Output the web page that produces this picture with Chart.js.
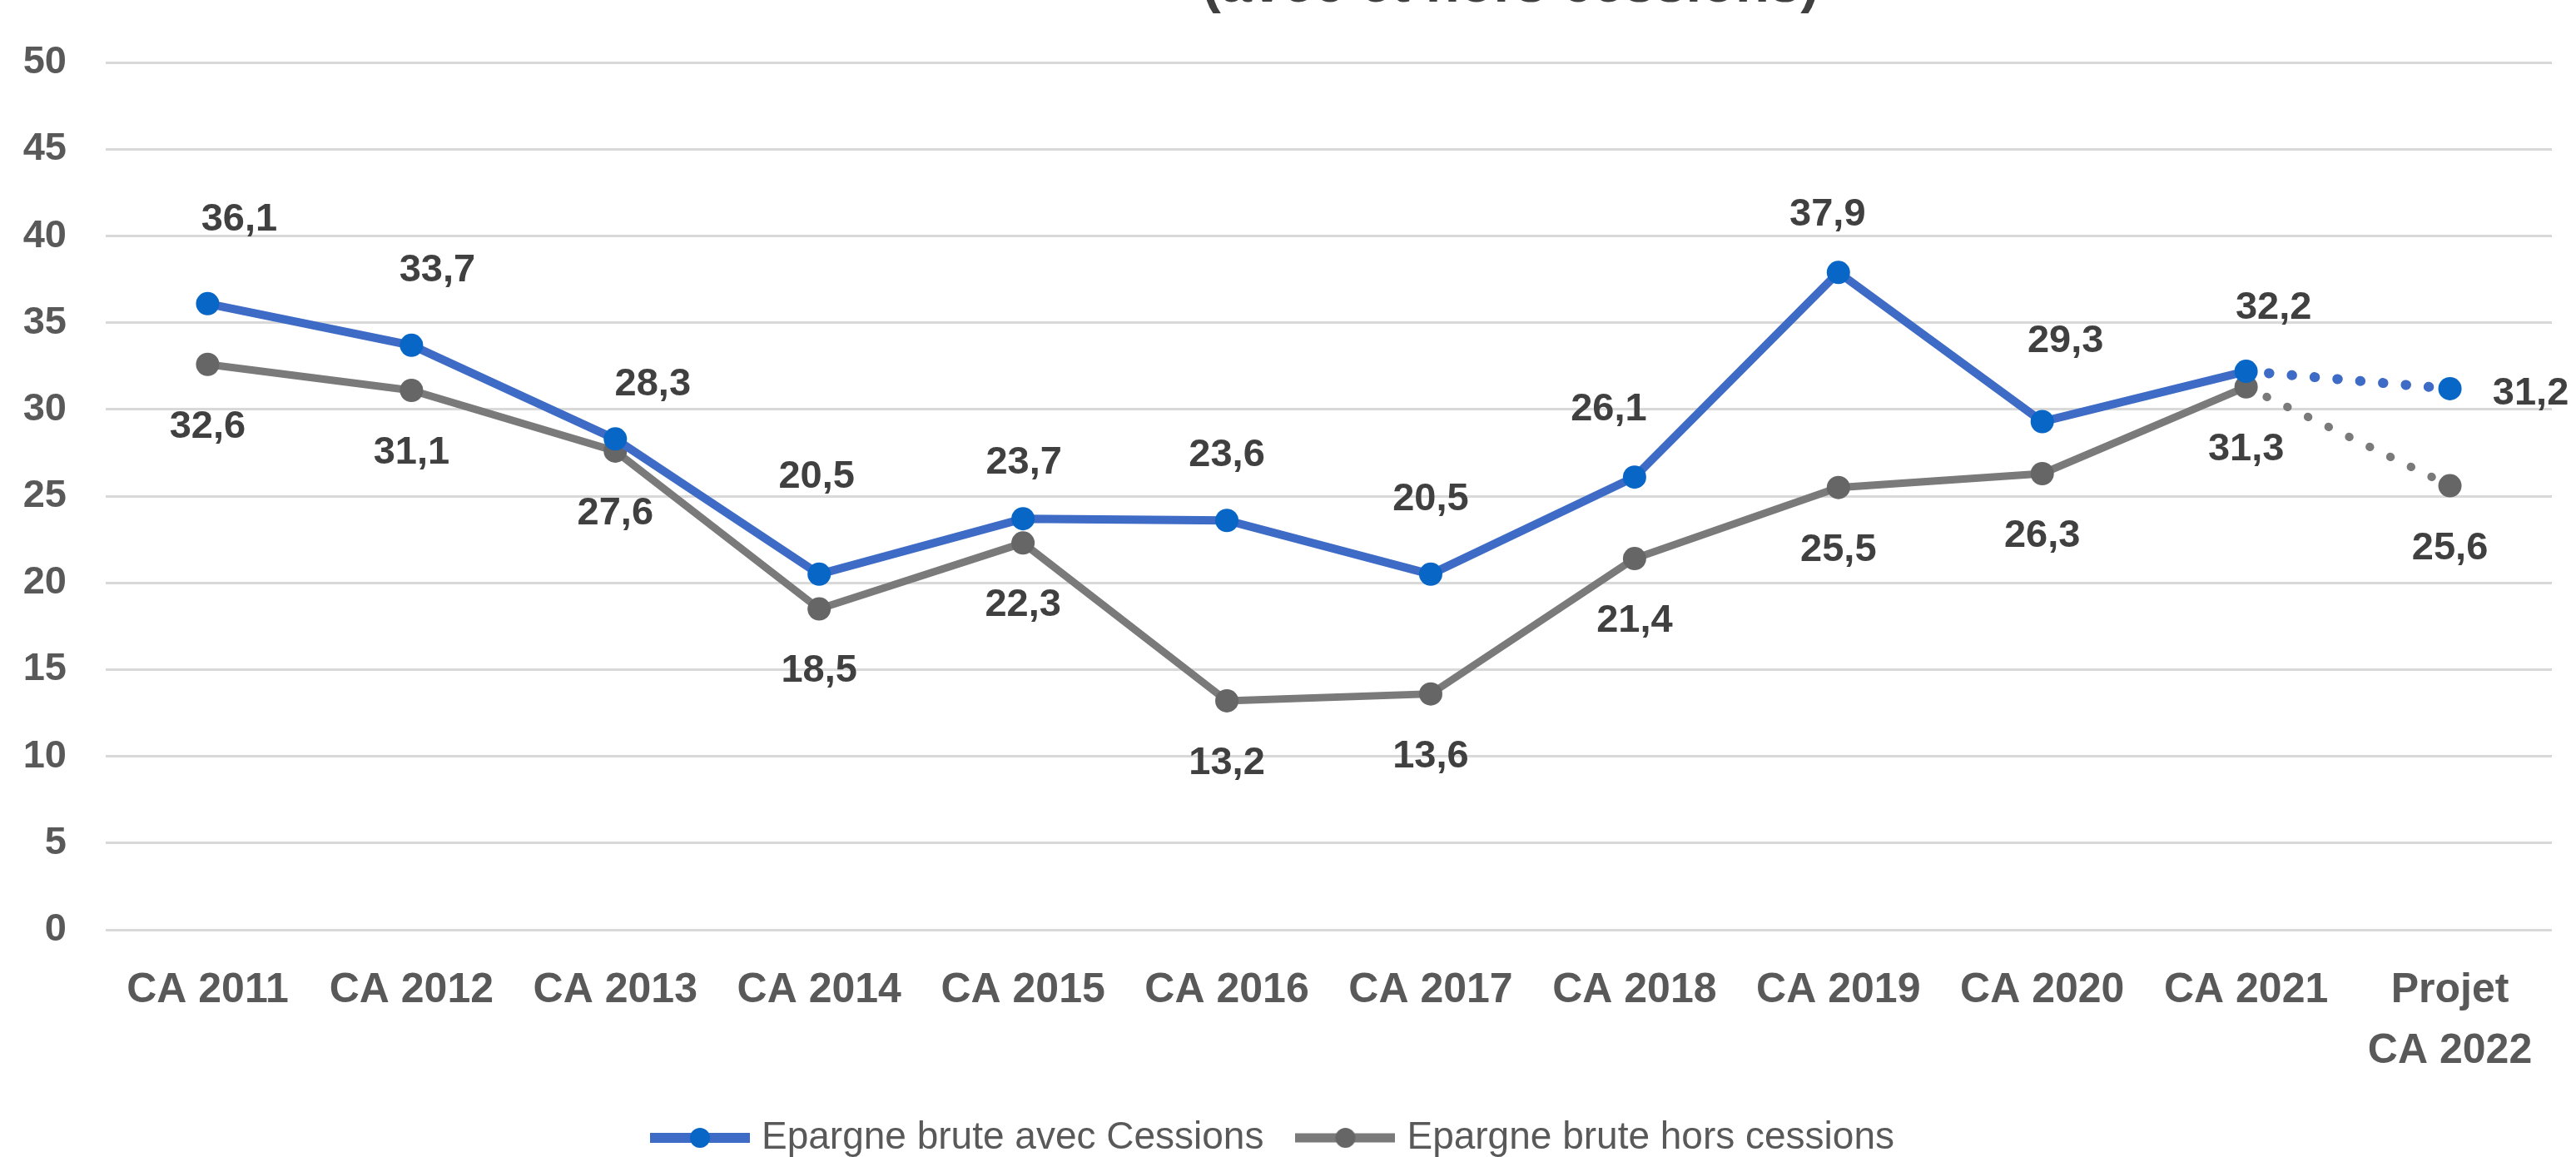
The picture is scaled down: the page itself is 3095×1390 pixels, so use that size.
<!DOCTYPE html>
<html lang="fr">
<head>
<meta charset="utf-8">
<script src="https://cdn.jsdelivr.net/npm/chart.js@4.4.1/dist/chart.umd.min.js"></script>
<style>
  html, body { margin: 0; padding: 0; background: #fff; }
  #wrap { width: 3095px; height: 1390px; }
</style>
</head>
<body>
<div id="wrap"><canvas id="chart" width="3095" height="1390"></canvas></div>
<script>
// Epargne brute (M€), comptes administratifs 2011-2021 + projet 2022
const CATEGORIES = ['CA 2011', 'CA 2012', 'CA 2013', 'CA 2014', 'CA 2015', 'CA 2016',
  'CA 2017', 'CA 2018', 'CA 2019', 'CA 2020', 'CA 2021', ['Projet', 'CA 2022']]
const AVEC_CESSIONS = [36.1, 33.7, 28.3, 20.5, 23.7, 23.6, 20.5, 26.1, 37.9, 29.3, 32.2, 31.2]
const HORS_CESSIONS = [32.6, 31.1, 27.6, 18.5, 22.3, 13.2, 13.6, 21.4, 25.5, 26.3, 31.3, 25.6]
const SERIES_NAMES = ['Epargne brute avec Cessions', 'Epargne brute hors cessions']
const Y_MIN = 0
const Y_MAX = 50
const Y_STEP = 5
const SUBTITLE = '(avec et hors cessions)'

// label placement (pixels from the point), the blue ones were moved by hand in the original
const AVEC_LABEL_SHIFT = [[38, -101], [31, -90], [45, -65], [-3, -117], [1, -67], [0, -78],
  [0, -90], [-31, -81], [-13, -69], [28, -96], [33, -76], [97, 6]]
const HORS_LABEL_SHIFT = [0, 75]

const BLUE_LINE = '#3E6BC6'
const BLUE_POINT = '#0866C6'
const GREY_LINE = '#7A7A7A'
const GREY_POINT = '#666666'
const TEXT_DARK = '#404040'
const TEXT_AXIS = '#595959'
const LAST = CATEGORIES.length - 1

Chart.defaults.font.family = "'Liberation Sans', Arial, sans-serif"

function frNumber (v) {
  return v.toFixed(1).replace('.', ',')
}

function legendMarker (lineColor, pointColor, width) {
  const c = document.createElement('canvas')
  c.width = 120
  c.height = 30
  const ctx = c.getContext('2d')
  ctx.strokeStyle = lineColor
  ctx.lineWidth = width
  ctx.beginPath()
  ctx.moveTo(0, 15)
  ctx.lineTo(120, 15)
  ctx.stroke()
  ctx.fillStyle = pointColor
  ctx.beginPath()
  ctx.arc(60, 15, 12, 0, Math.PI * 2)
  ctx.fill()
  return c
}

const MARKERS = [
  legendMarker(BLUE_LINE, BLUE_POINT, 12),
  legendMarker(GREY_LINE, GREY_POINT, 11)
]

// dotted segment towards the 2022 projection
function dotted (width) {
  return {
    borderDash: (ctx) => ctx.p1DataIndex === LAST ? [0.5, 27] : undefined,
    borderWidth: (ctx) => ctx.p1DataIndex === LAST ? width : undefined
  }
}

const valueLabels = {
  id: 'valueLabels',
  afterDatasetsDraw (chart) {
    const ctx = chart.ctx
    ctx.save()
    ctx.font = "bold 47px 'Liberation Sans', Arial, sans-serif"
    ctx.fillStyle = TEXT_DARK
    ctx.textAlign = 'center'
    ctx.textBaseline = 'middle'
    chart.data.datasets.forEach((ds, di) => {
      const meta = chart.getDatasetMeta(di)
      meta.data.forEach((pt, i) => {
        const shift = di === 0 ? AVEC_LABEL_SHIFT[i] : HORS_LABEL_SHIFT
        ctx.fillText(frNumber(ds.data[i]), pt.x + shift[0], pt.y + shift[1])
      })
    })
    ctx.restore()
  }
}

// only the bottom of the second title line shows in the original crop
const cutTitle = {
  id: 'cutTitle',
  afterDraw (chart) {
    const ctx = chart.ctx
    ctx.save()
    ctx.font = "bold 67px 'Liberation Sans', Arial, sans-serif"
    ctx.fillStyle = TEXT_DARK
    ctx.textAlign = 'center'
    ctx.textBaseline = 'alphabetic'
    ctx.fillText(SUBTITLE, 1815, 2)
    ctx.restore()
  }
}

new Chart(document.getElementById('chart'), {
  type: 'line',
  data: {
    labels: CATEGORIES,
    datasets: [
      {
        label: SERIES_NAMES[0],
        data: AVEC_CESSIONS,
        borderColor: BLUE_LINE,
        backgroundColor: BLUE_POINT,
        borderWidth: 10,
        pointRadius: 14,
        pointBorderWidth: 0,
        pointBackgroundColor: BLUE_POINT,
        borderCapStyle: 'round',
        segment: dotted(12)
      },
      {
        label: SERIES_NAMES[1],
        data: HORS_CESSIONS,
        borderColor: GREY_LINE,
        backgroundColor: GREY_POINT,
        borderWidth: 9,
        pointRadius: 14,
        pointBorderWidth: 0,
        pointBackgroundColor: GREY_POINT,
        borderCapStyle: 'round',
        segment: dotted(10)
      }
    ]
  },
  options: {
    responsive: false,
    animation: false,
    events: [],
    layout: { padding: { top: 37, right: 29, left: 0, bottom: -10 } },
    scales: {
      x: {
        offset: true,
        grid: { display: false, drawTicks: false, tickLength: 0 },
        border: { display: false },
        ticks: {
          color: TEXT_AXIS,
          font: { size: 50, weight: 'bold', lineHeight: 1.46 },
          padding: 37,
          maxRotation: 0,
          autoSkip: false
        },
        afterFit (scale) { scale.height = 180 }
      },
      y: {
        min: Y_MIN,
        max: Y_MAX,
        grid: { color: '#D9D9D9', lineWidth: 3, drawTicks: false, tickLength: 0 },
        border: { display: false },
        ticks: {
          stepSize: Y_STEP,
          color: TEXT_AXIS,
          font: { size: 47, weight: 'bold' },
          padding: 47
        },
        afterFit (scale) { scale.width = 127 }
      }
    },
    plugins: {
      title: { display: false },
      tooltip: { enabled: false },
      legend: {
        position: 'bottom',
        labels: {
          color: TEXT_AXIS,
          font: { size: 46 },
          usePointStyle: true,
          pointStyleWidth: 102,
          padding: 47,
          generateLabels (chart) {
            const items = Chart.defaults.plugins.legend.labels.generateLabels(chart)
            items.forEach((item, i) => { item.pointStyle = MARKERS[i] })
            return items
          }
        }
      }
    }
  },
  plugins: [valueLabels, cutTitle]
})
</script>
</body>
</html>
